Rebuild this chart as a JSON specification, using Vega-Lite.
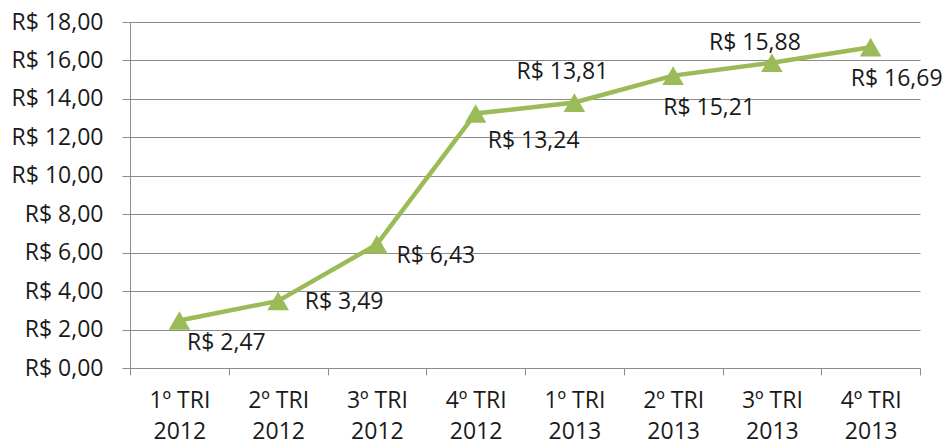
{
  "$schema": "https://vega.github.io/schema/vega-lite/v6.json",
  "autosize": "none",
  "width": 790,
  "height": 346,
  "padding": {"left": 130, "top": 22, "right": 29, "bottom": 77},
  "background": "white",
  "config": {
    "font": "Open Sans",
    "locale": {"number": {"decimal": ",", "thousands": ".", "grouping": [3], "currency": ["R$ ", ""]}},
    "view": {"stroke": null},
    "text": {"font": "Open Sans", "fontSize": 23, "color": "#1a1a1a", "align": "center", "baseline": "middle"}
  },
  "data": {
    "values": [
      {"q": "1º TRI 2012", "v": 2.47},
      {"q": "2º TRI 2012", "v": 3.49},
      {"q": "3º TRI 2012", "v": 6.43},
      {"q": "4º TRI 2012", "v": 13.24},
      {"q": "1º TRI 2013", "v": 13.81},
      {"q": "2º TRI 2013", "v": 15.21},
      {"q": "3º TRI 2013", "v": 15.88},
      {"q": "4º TRI 2013", "v": 16.69}
    ]
  },
  "encoding": {
    "x": {
      "field": "q", "type": "ordinal", "sort": null,
      "scale": {"paddingInner": 0, "paddingOuter": 0},
      "axis": {
        "title": null, "labelAngle": 0, "domainColor": "#8c8c8c", "tickColor": "#8c8c8c",
        "tickBand": "extent", "tickSize": 7, "labelPadding": 14,
        "labelFont": "Open Sans", "labelFontSize": 23, "labelColor": "#1a1a1a", "labelLineHeight": 31,
        "labelExpr": "[slice(datum.label, 0, 6), slice(datum.label, 7)]"
      }
    },
    "y": {
      "field": "v", "type": "quantitative",
      "scale": {"domain": [0, 18], "nice": false},
      "axis": {
        "title": null, "values": [0, 2, 4, 6, 8, 10, 12, 14, 16, 18], "format": "$.2f",
        "grid": true, "gridColor": "#8c8c8c", "gridWidth": 1,
        "domainColor": "#8c8c8c", "tickColor": "#8c8c8c", "tickSize": 8, "labelPadding": 19,
        "labelFont": "Open Sans", "labelFontSize": 23, "labelColor": "#1a1a1a"
      }
    }
  },
  "layer": [
    {"mark": {"type": "line", "color": "#9bbb59", "strokeWidth": 4.5}},
    {"mark": {"type": "point", "shape": "triangle-up", "filled": true, "color": "#9bbb59", "opacity": 1, "size": 465}},
    {
      "transform": [{"filter": "datum.q == '1º TRI 2012'"}],
      "mark": {"type": "text", "dx": 47, "dy": 22},
      "encoding": {"text": {"field": "v", "type": "quantitative", "format": "$.2f"}}
    },
    {
      "transform": [{"filter": "datum.q == '2º TRI 2012'"}],
      "mark": {"type": "text", "dx": 66, "dy": 1},
      "encoding": {"text": {"field": "v", "type": "quantitative", "format": "$.2f"}}
    },
    {
      "transform": [{"filter": "datum.q == '3º TRI 2012'"}],
      "mark": {"type": "text", "dx": 59, "dy": 12},
      "encoding": {"text": {"field": "v", "type": "quantitative", "format": "$.2f"}}
    },
    {
      "transform": [{"filter": "datum.q == '4º TRI 2012'"}],
      "mark": {"type": "text", "dx": 58, "dy": 28},
      "encoding": {"text": {"field": "v", "type": "quantitative", "format": "$.2f"}}
    },
    {
      "transform": [{"filter": "datum.q == '1º TRI 2013'"}],
      "mark": {"type": "text", "dx": -12, "dy": -31},
      "encoding": {"text": {"field": "v", "type": "quantitative", "format": "$.2f"}}
    },
    {
      "transform": [{"filter": "datum.q == '2º TRI 2013'"}],
      "mark": {"type": "text", "dx": 36, "dy": 32},
      "encoding": {"text": {"field": "v", "type": "quantitative", "format": "$.2f"}}
    },
    {
      "transform": [{"filter": "datum.q == '3º TRI 2013'"}],
      "mark": {"type": "text", "dx": -17, "dy": -20},
      "encoding": {"text": {"field": "v", "type": "quantitative", "format": "$.2f"}}
    },
    {
      "transform": [{"filter": "datum.q == '4º TRI 2013'"}],
      "mark": {"type": "text", "dx": 26, "dy": 32},
      "encoding": {"text": {"field": "v", "type": "quantitative", "format": "$.2f"}}
    }
  ]
}
